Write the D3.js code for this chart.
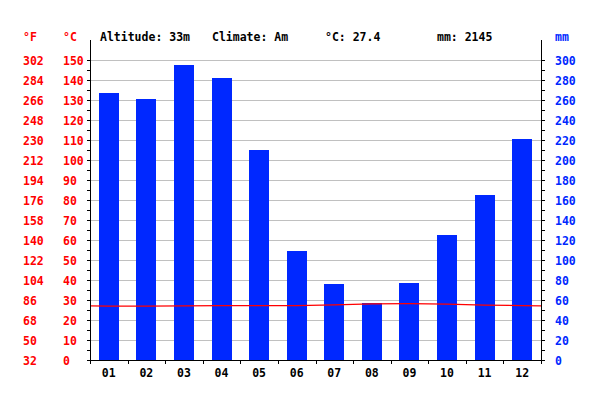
<!DOCTYPE html>
<html>
<head>
<meta charset="utf-8">
<script src="https://cdn.jsdelivr.net/npm/d3@7"></script>
<style>
  html, body { margin: 0; padding: 0; background: #fff; }
  svg text { font-family: "DejaVu Sans Mono", monospace; font-weight: bold; font-size: 11.5px; }
</style>
</head>
<body>
<svg id="chart" width="600" height="400"></svg>
<script>
const months = ["01","02","03","04","05","06","07","08","09","10","11","12"];
const precipitation = [267, 261, 295, 282, 210, 109, 76, 57, 77, 125, 165, 221];
const temperature = [26.9, 26.9, 27.1, 27.2, 27.2, 27.2, 27.6, 28.1, 28.2, 27.9, 27.4, 27.2];
const celsiusTicks = [0,10,20,30,40,50,60,70,80,90,100,110,120,130,140,150];
const fahrenheitLabels = ["32","50","68","86","104","122","140","158","176","194","212","230","248","266","284","302"];
const mmTicks = [0,20,40,60,80,100,120,140,160,180,200,220,240,260,280,300];
const header = { altitude: "Altitude: 33m", climate: "Climate: Am", temp: "°C: 27.4", rain: "mm: 2145" };

const svg = d3.select("#chart");
const pLeft = 90, pRight = 541, pTop = 60, pBottom = 360, axisTop = 40;
const red = "#ff0000", blue = "#0028ff", barColor = "#0028ff";

const x = d3.scaleBand().domain(months).range([pLeft, pRight]).padding(0);
const yC = d3.scaleLinear().domain([0, 150]).range([pBottom, pTop]);
const yM = d3.scaleLinear().domain([0, 300]).range([pBottom, pTop]);

// gridlines
svg.append("g").attr("shape-rendering", "crispEdges").selectAll("line").data(celsiusTicks.filter(d => d > 0)).join("line")
  .attr("x1", pLeft).attr("x2", pRight)
  .attr("y1", d => Math.round(yC(d)) + 0.5).attr("y2", d => Math.round(yC(d)) + 0.5)
  .attr("stroke", "#c0c0c0").attr("stroke-width", 1);

// bars
const barW = 20;
svg.append("g").attr("shape-rendering", "crispEdges").selectAll("rect").data(precipitation).join("rect")
  .attr("x", (d, i) => Math.round(x(months[i]) + x.bandwidth() / 2 - barW / 2))
  .attr("width", barW)
  .attr("y", d => Math.round(yM(d)))
  .attr("height", d => pBottom - Math.round(yM(d)))
  .attr("fill", barColor);

// temperature line (cyclic edges)
const edge = (temperature[0] + temperature[11]) / 2;
const pts = [[pLeft, edge]].concat(temperature.map((t, i) => [x(months[i]) + x.bandwidth() / 2, t])).concat([[pRight, edge]]);
svg.append("path").datum(pts)
  .attr("d", d3.line().x(d => d[0]).y(d => yC(d[1])))
  .attr("fill", "none").attr("stroke", red).attr("stroke-width", 1.2);

// axes lines
const ax = svg.append("g").attr("stroke", "#000").attr("stroke-width", 1).attr("shape-rendering", "crispEdges");
ax.append("line").attr("x1", pLeft + 0.5).attr("x2", pLeft + 0.5).attr("y1", axisTop).attr("y2", pBottom + 1);
ax.append("line").attr("x1", pRight + 0.5).attr("x2", pRight + 0.5).attr("y1", axisTop).attr("y2", pBottom + 1);
ax.append("line").attr("x1", pLeft).attr("x2", pRight + 1).attr("y1", pBottom + 0.5).attr("y2", pBottom + 0.5);

// minor + major ticks left/right
const allC = d3.range(0, 151, 5);
ax.selectAll(".lt").data(allC).join("line")
  .attr("x1", pLeft - 3).attr("x2", pLeft + 1)
  .attr("y1", d => Math.round(yC(d)) + 0.5).attr("y2", d => Math.round(yC(d)) + 0.5);
ax.selectAll(".rt").data(allC).join("line")
  .attr("x1", pRight).attr("x2", pRight + 4)
  .attr("y1", d => Math.round(yC(d)) + 0.5).attr("y2", d => Math.round(yC(d)) + 0.5);
// bottom ticks at band boundaries
const bounds = months.map(m => x(m)).concat([pRight]);
ax.selectAll(".bt").data(bounds).join("line")
  .attr("x1", d => Math.round(d) + 0.5).attr("x2", d => Math.round(d) + 0.5)
  .attr("y1", pBottom).attr("y2", pBottom + 4);

// labels
const lab = svg.append("g");
lab.selectAll(".f").data(celsiusTicks).join("text")
  .attr("x", 23).attr("y", d => yC(d) + 5).attr("fill", red).text((d, i) => fahrenheitLabels[i]);
lab.selectAll(".c").data(celsiusTicks).join("text")
  .attr("x", 63).attr("y", d => yC(d) + 5).attr("fill", red).text(d => d);
lab.selectAll(".m").data(mmTicks).join("text")
  .attr("x", 555).attr("y", d => yM(d) + 5).attr("fill", blue).text(d => d);
lab.selectAll(".x").data(months).join("text")
  .attr("x", d => x(d) + x.bandwidth() / 2).attr("y", 377).attr("text-anchor", "middle")
  .attr("fill", "#000").text(d => d);

lab.append("text").attr("x", 23).attr("y", 41).attr("fill", red).text("°F");
lab.append("text").attr("x", 63).attr("y", 41).attr("fill", red).text("°C");
lab.append("text").attr("x", 555).attr("y", 41).attr("fill", blue).text("mm");
lab.append("text").attr("x", 100).attr("y", 41).attr("fill", "#000").text(header.altitude);
lab.append("text").attr("x", 212).attr("y", 41).attr("fill", "#000").text(header.climate);
lab.append("text").attr("x", 325).attr("y", 41).attr("fill", "#000").text(header.temp);
lab.append("text").attr("x", 437).attr("y", 41).attr("fill", "#000").text(header.rain);
</script>
</body>
</html>
